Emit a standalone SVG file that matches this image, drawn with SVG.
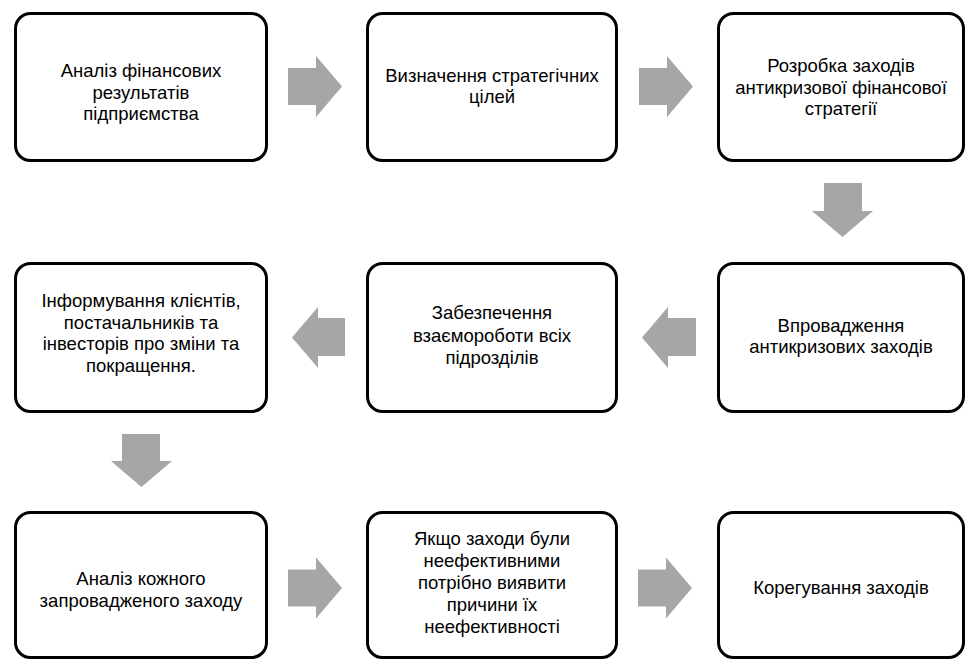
<svg xmlns="http://www.w3.org/2000/svg" width="968" height="662" viewBox="0 0 968 662">
  <style>
    .box { fill: #ffffff; stroke: #000000; stroke-width: 3; }
    .arrow { fill: #a6a6a6; stroke: none; }
    text { font-family: "Liberation Sans", Arial, sans-serif; font-size: 18.5px; fill: #000000; text-anchor: middle; }
  </style>
  <rect x="0" y="0" width="968" height="662" fill="#ffffff"/>

  <!-- block arrows between the steps -->
  <g id="connectors">
    <polygon class="arrow" points="288,68 316,68 316,56 342,86.5 316,117 316,105 288,105"/>
    <polygon class="arrow" points="639,68 667,68 667,56 693,86.5 667,117 667,105 639,105"/>
    <polygon class="arrow" points="824,183 862,183 862,211 873,211 842.5,237 812,211 824,211"/>
    <polygon class="arrow" points="696,318 668,318 668,307 642,337.5 668,368 668,356 696,356"/>
    <polygon class="arrow" points="345,318 318,318 318,307 292,337.5 318,368 318,356 345,356"/>
    <polygon class="arrow" points="122,434 160,434 160,461 172,461 141.5,487 111,461 122,461"/>
    <polygon class="arrow" points="288,569.5 316,569.5 316,557.5 342,588 316,618.5 316,606.5 288,606.5"/>
    <polygon class="arrow" points="638,569.5 666,569.5 666,557.5 692,588 666,618.5 666,606.5 638,606.5"/>
  </g>

  <g id="step1">
    <rect class="box" x="15.5" y="13.5" width="251" height="147" rx="15"/>
    <text x="141" y="77">Аналіз фінансових</text>
    <text x="141" y="98.5">результатів</text>
    <text x="141" y="120">підприємства</text>
  </g>
  <g id="step2">
    <rect class="box" x="367.5" y="13.5" width="249" height="147" rx="15"/>
    <text x="492" y="81.5">Визначення стратегічних</text>
    <text x="492" y="103">цілей</text>
  </g>
  <g id="step3">
    <rect class="box" x="718.5" y="13.5" width="245" height="147" rx="15"/>
    <text x="841" y="72">Розробка заходів</text>
    <text x="841" y="93.5">антикризової фінансової</text>
    <text x="841" y="115">стратегії</text>
  </g>
  <g id="step4">
    <rect class="box" x="718.5" y="263.5" width="245" height="148" rx="15"/>
    <text x="841" y="331.5">Впровадження</text>
    <text x="841" y="353">антикризових заходів</text>
  </g>
  <g id="step5">
    <rect class="box" x="367.5" y="263.5" width="249" height="148" rx="15"/>
    <text x="492" y="319">Забезпечення</text>
    <text x="492" y="341.5">взаємороботи всіх</text>
    <text x="492" y="364">підрозділів</text>
  </g>
  <g id="step6">
    <rect class="box" x="15.5" y="263.5" width="251" height="148" rx="15"/>
    <text x="141" y="307">Інформування клієнтів,</text>
    <text x="141" y="328.5">постачальників та</text>
    <text x="141" y="350">інвесторів про зміни та</text>
    <text x="141" y="371.5">покращення.</text>
  </g>
  <g id="step7">
    <rect class="box" x="15.5" y="512.5" width="251" height="145" rx="15"/>
    <text x="141" y="585">Аналіз кожного</text>
    <text x="141" y="606.5">запровадженого заходу</text>
  </g>
  <g id="step8">
    <rect class="box" x="367.5" y="512.5" width="249" height="145" rx="15"/>
    <text x="492" y="545">Якщо заходи були</text>
    <text x="492" y="566.5">неефективними</text>
    <text x="492" y="589">потрібно виявити</text>
    <text x="492" y="610.5">причини їх</text>
    <text x="492" y="633">неефективності</text>
  </g>
  <g id="step9">
    <rect class="box" x="718.5" y="512.5" width="245" height="145" rx="15"/>
    <text x="841" y="594">Корегування заходів</text>
  </g>
</svg>
